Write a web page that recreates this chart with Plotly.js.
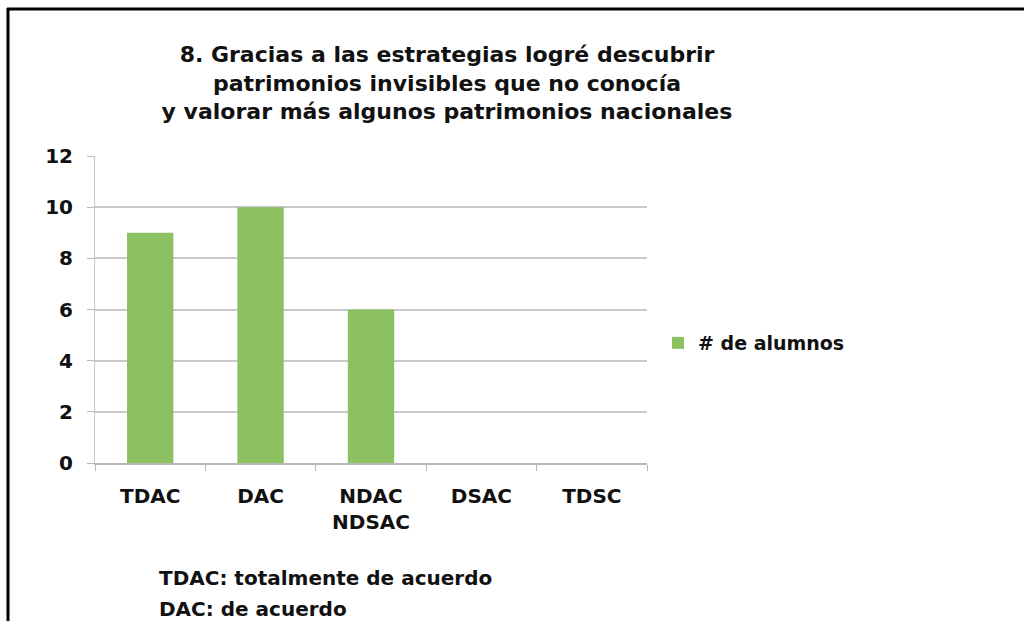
<!DOCTYPE html>
<html>
<head>
<meta charset="utf-8">
<script src="https://cdn.plot.ly/plotly-3.0.1.min.js"></script>
<style>
html,body{margin:0;padding:0;background:#fff;}
#chart{width:1024px;height:621px;}
</style>
</head>
<body>
<div id="chart"></div>
<script>
const categories = ["TDAC", "DAC", "NDAC<br>NDSAC", "DSAC", "TDSC"];
const values = [9, 10, 6, 0, 0];
const seriesName = "# de alumnos";
const yTicks = [0, 2, 4, 6, 8, 10, 12];
const titleText = "8. Gracias a las estrategias logré descubrir<br>patrimonios invisibles que no conocía<br>y valorar más algunos patrimonios nacionales";
const noteLines = ["TDAC: totalmente de acuerdo", "DAC: de acuerdo"];

const W = 1024, H = 621;
const px = x => x / W;
const py = y => 1 - y / H;
const font = {family: "DejaVu Sans, Verdana, sans-serif", color: "#111", weight: "bold"};
const f = s => Object.assign({size: s}, font);

const trace = {
  type: "bar",
  x: categories,
  y: values,
  name: seriesName,
  marker: {color: "#8cc162"},
  showlegend: true
};

const layout = {
  width: W, height: H,
  margin: {l: 0, r: 0, t: 0, b: 0},
  paper_bgcolor: "#fff",
  plot_bgcolor: "#fff",
  bargap: 0.58,
  font: f(20),
  title: {
    text: titleText,
    font: f(22),
    x: px(447), xanchor: "center",
    y: py(62), yanchor: "middle"
  },
  xaxis: {
    domain: [px(95), px(647)],
    showgrid: false,
    showline: true, linecolor: "#b8b8b8", linewidth: 2,
    ticks: "outside", tickson: "boundaries", ticklen: 6, tickcolor: "#b8b8b8", tickwidth: 1,
    ticklabelstandoff: 14,
    tickfont: f(20),
    fixedrange: true
  },
  yaxis: {
    domain: [py(463), py(156)],
    range: [0, 12],
    tickvals: yTicks,
    showgrid: true, gridcolor: "#c8c8c8", gridwidth: 2,
    showline: true, linecolor: "#c8c8c8", linewidth: 1,
    zeroline: false,
    ticks: "outside", ticklen: 7, tickcolor: "#b8b8b8",
    ticklabelstandoff: 10,
    tickfont: f(20),
    fixedrange: true
  },
  legend: {
    x: px(658), y: py(343), xanchor: "left", yanchor: "middle",
    font: f(19),
    itemwidth: 30,
    bgcolor: "rgba(0,0,0,0)"
  },
  annotations: [
    {text: noteLines[0], xref: "paper", yref: "paper", x: px(157), y: py(578), xanchor: "left", yanchor: "middle", showarrow: false, font: f(20)},
    {text: noteLines[1], xref: "paper", yref: "paper", x: px(157), y: py(609), xanchor: "left", yanchor: "middle", showarrow: false, font: f(20)}
  ],
  shapes: [
    {type: "line", xref: "paper", yref: "paper", x0: px(7), x1: 1, y0: py(9), y1: py(9), line: {color: "#000", width: 3}},
    {type: "line", xref: "paper", yref: "paper", x0: px(8), x1: px(8), y0: py(8), y1: 0, line: {color: "#000", width: 3}}
  ]
};

Plotly.newPlot("chart", [trace], layout, {displayModeBar: false, staticPlot: true});
</script>
</body>
</html>
